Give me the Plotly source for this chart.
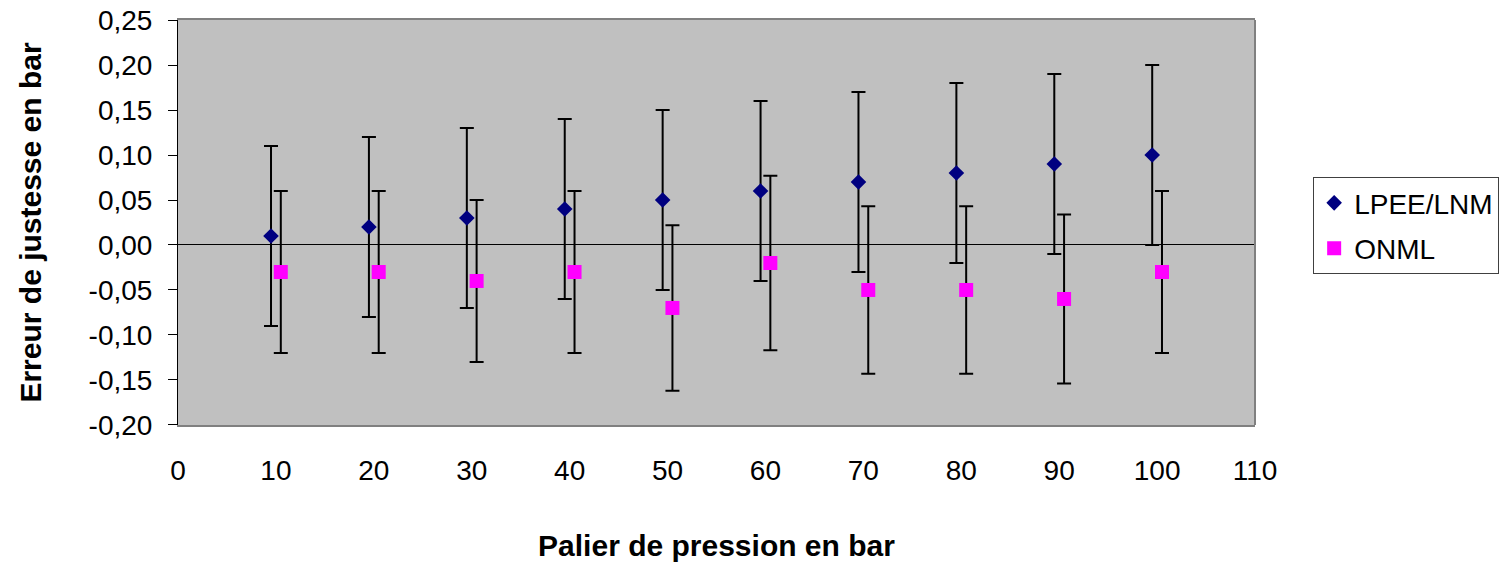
import plotly.graph_objects as go

# Data
paliers = [10, 20, 30, 40, 50, 60, 70, 80, 90, 100]
lpee_values = [0.01, 0.02, 0.03, 0.04, 0.05, 0.06, 0.07, 0.08, 0.09, 0.10]
lpee_errors = [0.10, 0.10, 0.10, 0.10, 0.10, 0.10, 0.10, 0.10, 0.10, 0.10]
onml_values = [-0.03, -0.03, -0.04, -0.03, -0.07, -0.02, -0.05, -0.05, -0.06, -0.03]
onml_errors = [0.09, 0.09, 0.09, 0.09, 0.092, 0.097, 0.093, 0.093, 0.094, 0.09]
x_ticks = [0, 10, 20, 30, 40, 50, 60, 70, 80, 90, 100, 110]
y_ticks = [0.25, 0.20, 0.15, 0.10, 0.05, 0.00, -0.05, -0.10, -0.15, -0.20]
y_ticktext = ["0,25", "0,20", "0,15", "0,10", "0,05", "0,00", "-0,05", "-0,10", "-0,15", "-0,20"]

# horizontal dodge between the two series (style)
DODGE = 0.5

FONT = "Liberation Sans, Arial, sans-serif"

fig = go.Figure()
fig.add_trace(go.Scatter(
    x=[p - DODGE for p in paliers], y=lpee_values, mode="markers", name="LPEE/LNM",
    legendgroup="a",
    marker=dict(symbol="diamond", size=12, color="#000080"),
    error_y=dict(type="data", array=lpee_errors, color="black", thickness=2, width=7),
))
fig.add_trace(go.Scatter(
    x=[p + DODGE for p in paliers], y=onml_values, mode="markers", name="ONML",
    legendgroup="b",
    marker=dict(symbol="square", size=14, color="#FF00FF"),
    error_y=dict(type="data", array=onml_errors, color="black", thickness=2, width=7),
))

fig.update_layout(
    width=1501, height=563,
    margin=dict(l=178, r=246, t=20, b=138, autoexpand=False),
    paper_bgcolor="white", plot_bgcolor="#C0C0C0",
    font=dict(family=FONT, size=28, color="black"),
    showlegend=True,
    legend=dict(
        x=1.054, y=0.612, xanchor="left", yanchor="top",
        bgcolor="white", bordercolor="#404040", borderwidth=1,
        font=dict(size=28, family=FONT),
        traceorder="grouped", tracegroupgap=6,
        itemwidth=30,
    ),
    shapes=[dict(type="line", xref="paper", yref="paper", x0=1, x1=1, y0=0, y1=1,
                 line=dict(color="#808080", width=2))],
)

fig.update_xaxes(
    range=[0, 110], tickvals=x_ticks, ticktext=[str(v) for v in x_ticks],
    showgrid=False, zeroline=False,
    showline=True, linecolor="#808080", linewidth=2, mirror=True,
    ticks="", ticklabelstandoff=19, ticklabeloverflow="allow",
    tickfont=dict(size=28, family=FONT),
    title=dict(text="<b>Palier de pression en bar</b>", font=dict(size=30, family=FONT), standoff=50),
)
fig.update_yaxes(
    range=[-0.2001, 0.2501], tickvals=y_ticks, ticktext=y_ticktext,
    showgrid=False, zeroline=True, zerolinecolor="black", zerolinewidth=1,
    showline=True, linecolor="black", linewidth=1,
    ticks="outside", ticklen=9, tickcolor="black", tickwidth=1,
    ticklabelstandoff=10, ticklabeloverflow="allow",
    tickfont=dict(size=28, family=FONT),
    title=dict(text="<b>Erreur de justesse en bar</b>", font=dict(size=30, family=FONT), standoff=38),
)

fig.write_html(
    "out.html",
    config={"displayModeBar": False},
    post_script="document.body.style.margin='0';document.body.style.overflow='hidden';",
)
